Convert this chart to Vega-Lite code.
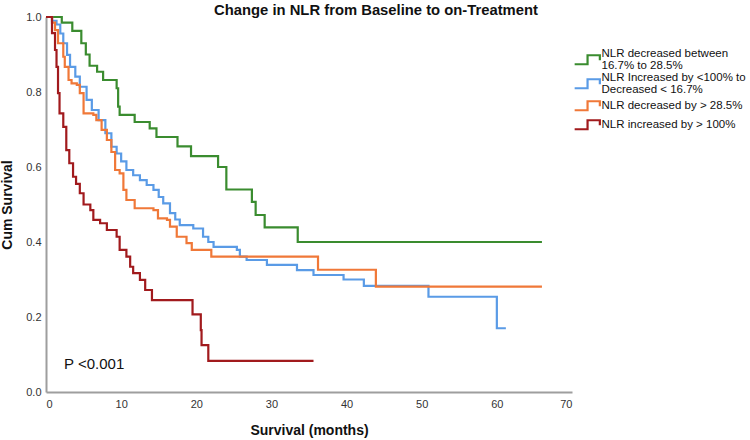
{
  "$schema": "https://vega.github.io/schema/vega-lite/v6.json",
  "width": 526,
  "height": 375,
  "autosize": {"type": "none"},
  "padding": {"left": 46, "top": 17, "right": 178, "bottom": 48},
  "background": "white",
  "title": {"text": "Change in NLR from Baseline to on-Treatment", "font": "Liberation Sans", "fontSize": 14.8, "fontWeight": "bold", "color": "#111", "anchor": "middle", "dx": 67, "offset": -7},
  "config": {"view": {"stroke": null}},
  "layer": [
    {
      "data": {"values": [
        {"g": "A", "t": 0, "s": 1.0}, {"g": "A", "t": 2.1, "s": 0.985}, {"g": "A", "t": 3.5, "s": 0.963}, {"g": "A", "t": 4.7, "s": 0.93}, {"g": "A", "t": 5.3, "s": 0.9}, {"g": "A", "t": 5.8, "s": 0.87}, {"g": "A", "t": 6.8, "s": 0.854}, {"g": "A", "t": 7.6, "s": 0.832}, {"g": "A", "t": 9.4, "s": 0.81}, {"g": "A", "t": 9.6, "s": 0.761}, {"g": "A", "t": 9.8, "s": 0.739}, {"g": "A", "t": 11.8, "s": 0.72}, {"g": "A", "t": 13.8, "s": 0.703}, {"g": "A", "t": 14.7, "s": 0.68}, {"g": "A", "t": 17.5, "s": 0.655}, {"g": "A", "t": 19.3, "s": 0.629}, {"g": "A", "t": 22.9, "s": 0.6}, {"g": "A", "t": 24.0, "s": 0.54}, {"g": "A", "t": 27.4, "s": 0.507}, {"g": "A", "t": 27.9, "s": 0.472}, {"g": "A", "t": 29.1, "s": 0.439}, {"g": "A", "t": 33.5, "s": 0.4}, {"g": "A", "t": 66.0, "s": 0.4},
        {"g": "B", "t": 0, "s": 1.0}, {"g": "B", "t": 0.8, "s": 0.99}, {"g": "B", "t": 1.4, "s": 0.98}, {"g": "B", "t": 1.9, "s": 0.956}, {"g": "B", "t": 2.3, "s": 0.93}, {"g": "B", "t": 2.8, "s": 0.899}, {"g": "B", "t": 3.2, "s": 0.867}, {"g": "B", "t": 3.9, "s": 0.841}, {"g": "B", "t": 4.5, "s": 0.814}, {"g": "B", "t": 5.4, "s": 0.779}, {"g": "B", "t": 6.1, "s": 0.752}, {"g": "B", "t": 7.0, "s": 0.725}, {"g": "B", "t": 7.9, "s": 0.69}, {"g": "B", "t": 8.7, "s": 0.654}, {"g": "B", "t": 9.4, "s": 0.636}, {"g": "B", "t": 10.0, "s": 0.615}, {"g": "B", "t": 10.7, "s": 0.592}, {"g": "B", "t": 11.6, "s": 0.578}, {"g": "B", "t": 12.5, "s": 0.565}, {"g": "B", "t": 13.4, "s": 0.552}, {"g": "B", "t": 14.3, "s": 0.539}, {"g": "B", "t": 15.0, "s": 0.52}, {"g": "B", "t": 15.6, "s": 0.503}, {"g": "B", "t": 16.5, "s": 0.477}, {"g": "B", "t": 17.2, "s": 0.46}, {"g": "B", "t": 17.8, "s": 0.445}, {"g": "B", "t": 19.6, "s": 0.436}, {"g": "B", "t": 20.9, "s": 0.414}, {"g": "B", "t": 21.6, "s": 0.4}, {"g": "B", "t": 22.3, "s": 0.387}, {"g": "B", "t": 25.4, "s": 0.379}, {"g": "B", "t": 25.8, "s": 0.361}, {"g": "B", "t": 26.7, "s": 0.352}, {"g": "B", "t": 29.4, "s": 0.339}, {"g": "B", "t": 33.4, "s": 0.325}, {"g": "B", "t": 35.6, "s": 0.312}, {"g": "B", "t": 39.6, "s": 0.3}, {"g": "B", "t": 42.3, "s": 0.283}, {"g": "B", "t": 50.9, "s": 0.254}, {"g": "B", "t": 60.0, "s": 0.17}, {"g": "B", "t": 61.2, "s": 0.17},
        {"g": "C", "t": 0, "s": 1.0}, {"g": "C", "t": 0.8, "s": 0.985}, {"g": "C", "t": 1.2, "s": 0.965}, {"g": "C", "t": 1.6, "s": 0.93}, {"g": "C", "t": 2.3, "s": 0.894}, {"g": "C", "t": 2.5, "s": 0.867}, {"g": "C", "t": 3.0, "s": 0.832}, {"g": "C", "t": 3.4, "s": 0.823}, {"g": "C", "t": 4.1, "s": 0.819}, {"g": "C", "t": 4.5, "s": 0.797}, {"g": "C", "t": 5.0, "s": 0.743}, {"g": "C", "t": 6.3, "s": 0.739}, {"g": "C", "t": 6.7, "s": 0.725}, {"g": "C", "t": 7.4, "s": 0.699}, {"g": "C", "t": 8.1, "s": 0.672}, {"g": "C", "t": 8.7, "s": 0.64}, {"g": "C", "t": 9.2, "s": 0.592}, {"g": "C", "t": 9.8, "s": 0.583}, {"g": "C", "t": 10.3, "s": 0.539}, {"g": "C", "t": 10.7, "s": 0.512}, {"g": "C", "t": 11.8, "s": 0.49}, {"g": "C", "t": 14.3, "s": 0.485}, {"g": "C", "t": 14.9, "s": 0.463}, {"g": "C", "t": 16.1, "s": 0.459}, {"g": "C", "t": 16.5, "s": 0.441}, {"g": "C", "t": 17.4, "s": 0.414}, {"g": "C", "t": 18.7, "s": 0.397}, {"g": "C", "t": 19.4, "s": 0.379}, {"g": "C", "t": 22.0, "s": 0.361}, {"g": "C", "t": 36.2, "s": 0.326}, {"g": "C", "t": 43.9, "s": 0.281}, {"g": "C", "t": 66.0, "s": 0.281},
        {"g": "D", "t": 0, "s": 1.0}, {"g": "D", "t": 0.8, "s": 0.957}, {"g": "D", "t": 1.2, "s": 0.912}, {"g": "D", "t": 1.4, "s": 0.867}, {"g": "D", "t": 1.6, "s": 0.797}, {"g": "D", "t": 1.8, "s": 0.743}, {"g": "D", "t": 2.3, "s": 0.707}, {"g": "D", "t": 2.7, "s": 0.645}, {"g": "D", "t": 3.1, "s": 0.61}, {"g": "D", "t": 3.6, "s": 0.574}, {"g": "D", "t": 4.0, "s": 0.555}, {"g": "D", "t": 4.5, "s": 0.53}, {"g": "D", "t": 5.0, "s": 0.5}, {"g": "D", "t": 5.9, "s": 0.485}, {"g": "D", "t": 6.3, "s": 0.459}, {"g": "D", "t": 7.2, "s": 0.45}, {"g": "D", "t": 8.1, "s": 0.432}, {"g": "D", "t": 9.4, "s": 0.414}, {"g": "D", "t": 9.8, "s": 0.379}, {"g": "D", "t": 10.7, "s": 0.361}, {"g": "D", "t": 11.2, "s": 0.334}, {"g": "D", "t": 11.6, "s": 0.317}, {"g": "D", "t": 12.5, "s": 0.299}, {"g": "D", "t": 13.2, "s": 0.272}, {"g": "D", "t": 14.1, "s": 0.245}, {"g": "D", "t": 19.5, "s": 0.207}, {"g": "D", "t": 20.6, "s": 0.165}, {"g": "D", "t": 20.7, "s": 0.125}, {"g": "D", "t": 21.6, "s": 0.083}, {"g": "D", "t": 35.6, "s": 0.083}
      ]},
      "mark": {"type": "line", "interpolate": "step-after", "strokeWidth": 2.2},
      "encoding": {
        "x": {"field": "t", "type": "quantitative", "scale": {"domain": [0, 70], "nice": false}, "axis": {"title": "Survival (months)", "values": [0, 10, 20, 30, 40, 50, 60, 70], "grid": false, "ticks": false, "domainColor": "#9e9e9e", "domainWidth": 2, "labelFont": "Liberation Sans", "labelFontSize": 11, "labelColor": "#333", "labelPadding": 6, "titleFont": "Liberation Sans", "titleFontSize": 14, "titleFontWeight": "bold", "titleColor": "#111", "titlePadding": 14}},
        "y": {"field": "s", "type": "quantitative", "scale": {"domain": [0, 1], "nice": false}, "axis": {"title": "Cum Survival", "values": [0, 0.2, 0.4, 0.6, 0.8, 1.0], "format": ".1f", "grid": false, "ticks": false, "domainColor": "#9e9e9e", "domainWidth": 2, "labelFont": "Liberation Sans", "labelFontSize": 11, "labelColor": "#333", "labelPadding": 5, "titleFont": "Liberation Sans", "titleFontSize": 14, "titleFontWeight": "bold", "titleColor": "#111", "titlePadding": 11}},
        "color": {"field": "g", "type": "nominal", "scale": {"domain": ["A", "B", "C", "D"], "range": ["#3a8c2f", "#5a9be6", "#f07838", "#a11a1d"]},
          "legend": {"title": null, "orient": "none", "legendX": 528, "legendY": 37, "gridAlign": "each", "symbolType": "M-1.7,1.5H2.6V-1.5H6.7V0.2", "symbolSize": 36, "symbolStrokeWidth": 2.2, "labelFont": "Liberation Sans", "labelFontSize": 11.5, "labelColor": "#111", "labelLimit": 300, "labelOffset": 16, "rowPadding": 0,
            "labelExpr": "datum.label == 'A' ? ['NLR decreased between', '16.7% to 28.5%'] : datum.label == 'B' ? ['NLR Increased by <100% to', 'Decreased < 16.7%'] : datum.label == 'C' ? 'NLR decreased by > 28.5%' : 'NLR increased by > 100%'",
            "encode": {"labels": {"update": {"lineHeight": {"value": 11.5}, "dy": {"signal": "datum.value == 'A' || datum.value == 'B' ? -5.5 : 0"}}}}}}
      }
    },
    {
      "data": {"values": [{"t": 2.4, "s": 0.075, "label": "P <0.001"}]},
      "mark": {"type": "text", "align": "left", "baseline": "middle", "font": "Liberation Sans", "fontSize": 15, "color": "#111"},
      "encoding": {"x": {"field": "t", "type": "quantitative"}, "y": {"field": "s", "type": "quantitative"}, "text": {"field": "label"}}
    }
  ]
}
